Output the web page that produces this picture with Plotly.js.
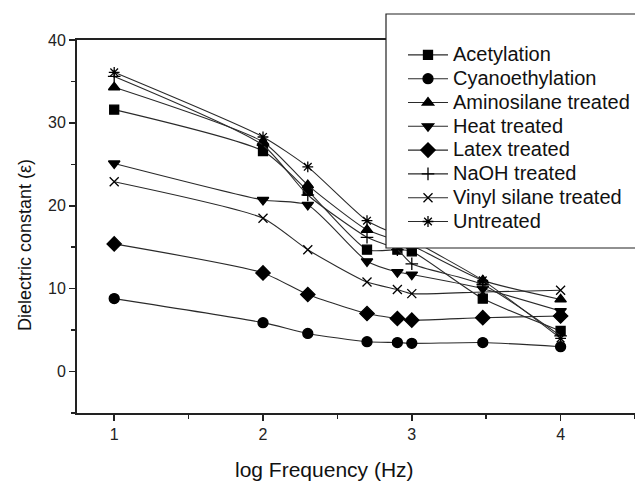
<!DOCTYPE html>
<html>
<head>
<meta charset="utf-8">
<script src="https://cdn.plot.ly/plotly-3.0.1.min.js"></script>
<style>html,body{margin:0;padding:0;background:#fff;}#chart{width:635px;height:483px;}</style>
</head>
<body>
<div id="chart"></div>
<script>
// log10 of frequency (Hz): 10, 100, 200, 500, 800, 1000, 3000, 10000
const logFreq = [1, 2, 2.301, 2.699, 2.903, 3, 3.477, 4];

const acetylation   = [31.6, 26.6, 21.8, 14.7, 14.7, 14.5, 8.8, 4.9];
const cyanoethyl    = [8.8, 5.9, 4.6, 3.6, 3.5, 3.4, 3.5, 3.0];
const aminosilane   = [34.3, 27.7, 22.5, 17.1, 15.8, 15.2, 11.0, 8.7];
const heatTreated   = [25.1, 20.7, 20.1, 13.3, 12.0, 11.7, 10.0, 7.3];
const latexTreated  = [15.4, 11.9, 9.3, 7.0, 6.4, 6.2, 6.5, 6.7];
const naohTreated   = [35.6, 27.3, 21.3, 16.2, 14.7, 13.0, 10.5, 4.3];
const vinylSilane   = [22.9, 18.5, 14.7, 10.8, 9.9, 9.4, 9.6, 9.8];
const untreated     = [36.1, 28.3, 24.7, 18.2, 16.5, 15.8, 11.0, 4.0];

const seriesNames = ["Acetylation", "Cyanoethylation", "Aminosilane treated", "Heat treated",
                     "Latex treated", "NaOH treated", "Vinyl silane treated", "Untreated"];
const seriesValues = [acetylation, cyanoethyl, aminosilane, heatTreated,
                      latexTreated, naohTreated, vinylSilane, untreated];
const symbols = ["square", "circle", "triangle-up", "triangle-down",
                 "diamond", "cross-thin-open", "x-thin-open", "asterisk-open"];
const sizes = [9, 10, 10, 10, 11, 9, 9, 9];

const xTitle = "log Frequency (Hz)";
const yTitle = "Dielectric constant (ε)";

const traces = seriesNames.map((name, i) => ({
  type: "scatter",
  mode: "lines+markers",
  name: '<span style="font-size:20px">' + name + '</span>',
  x: logFreq,
  y: seriesValues[i],
  line: {color: "#2a2a2a", width: 1.1, shape: "spline", smoothing: 0.6},
  marker: {symbol: symbols[i], size: sizes[i], color: "#000",
           line: {color: "#000", width: 1.3}}
}));

const font = "Liberation Sans, Arial, sans-serif";

const layout = {
  width: 635, height: 483,
  margin: {l: 77, r: 0, t: 40, b: 70},
  paper_bgcolor: "#fff", plot_bgcolor: "#fff",
  font: {family: font, color: "#111"},
  showlegend: true,
  xaxis: {
    range: [0.75, 4.5],
    tickmode: "linear", tick0: 0, dtick: 1,
    ticks: "outside", ticklen: 6, tickwidth: 1.5, tickcolor: "#222",
    minor: {dtick: 0.5, tick0: 0, ticks: "outside", ticklen: 4, tickwidth: 1.5, tickcolor: "#222"},
    showline: true, linewidth: 2, linecolor: "#222", mirror: true,
    showgrid: false, zeroline: false,
    tickfont: {size: 16, family: font, color: "#222"}
  },
  yaxis: {
    range: [-5, 40],
    tickmode: "linear", tick0: 0, dtick: 10,
    ticks: "outside", ticklen: 6, tickwidth: 1.5, tickcolor: "#222",
    minor: {dtick: 5, tick0: 0, ticks: "outside", ticklen: 4, tickwidth: 1.5, tickcolor: "#222"},
    showline: true, linewidth: 2, linecolor: "#222", mirror: true,
    showgrid: false, zeroline: false,
    tickfont: {size: 16, family: font, color: "#222"}
  },
  annotations: [
    {text: xTitle, xref: "paper", yref: "paper", x: (324 - 77) / 558, y: (413 - 470) / 373,
     xanchor: "center", yanchor: "middle", showarrow: false,
     font: {size: 21, family: font, color: "#111"}},
    {text: yTitle, xref: "paper", yref: "paper", x: (25 - 77) / 558, y: (413 - 245) / 373,
     xanchor: "center", yanchor: "middle", showarrow: false, textangle: -90,
     font: {size: 18, family: font, color: "#111"}}
  ],
  shapes: [{
    type: "rect", xref: "paper", yref: "paper",
    x0: (386 - 77) / 558, x1: (640 - 77) / 558,
    y0: (413 - 248) / 373, y1: (413 - 14) / 373,
    fillcolor: "#fff", line: {color: "#222", width: 1.2}, layer: "above"
  }],
  legend: {
    x: (403 - 77) / 558, xanchor: "left",
    y: (413 - 38) / 373, yanchor: "top",
    bgcolor: "rgba(0,0,0,0)", borderwidth: 0,
    font: {size: 16, family: font, color: "#111"},
    itemwidth: 40, tracegroupgap: 0
  }
};

Plotly.newPlot("chart", traces, layout, {staticPlot: true, displayModeBar: false});
</script>
</body>
</html>
